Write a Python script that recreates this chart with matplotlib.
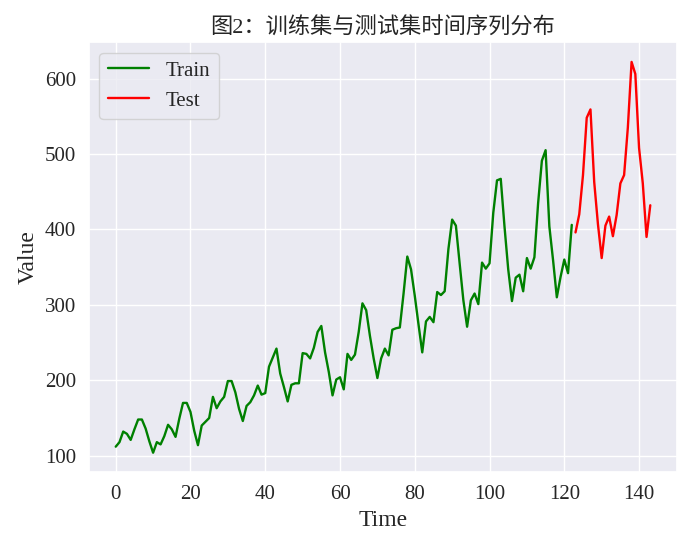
import matplotlib
matplotlib.use("Agg")
import matplotlib.pyplot as plt
import seaborn as sns
import numpy as np

passengers = [112,118,132,129,121,135,148,148,136,119,104,118,
115,126,141,135,125,149,170,170,158,133,114,140,
145,150,178,163,172,178,199,199,184,162,146,166,
171,180,193,181,183,218,230,242,209,191,172,194,
196,196,236,235,229,243,264,272,237,211,180,201,
204,188,235,227,234,264,302,293,259,229,203,229,
242,233,267,269,270,315,364,347,312,274,237,278,
284,277,317,313,318,374,413,405,355,306,271,306,
315,301,356,348,355,422,465,467,404,347,305,336,
340,318,362,348,363,435,491,505,404,359,310,337,
360,342,406,396,420,472,548,559,463,407,362,405,
417,391,419,461,472,535,622,606,508,461,390,432]
split = 123
train_x = list(range(split)); train_y = passengers[:split]
test_x = list(range(split, len(passengers))); test_y = passengers[split:]

sns.set_theme(style="darkgrid")
plt.rcParams['font.family'] = ['Liberation Serif', 'Noto Sans CJK SC', 'DejaVu Sans']

fig, ax = plt.subplots(figsize=(6.95, 5.49), dpi=100)
ax.plot(train_x, train_y, color='green', label='Train', linewidth=1.7)
ax.plot(test_x, test_y, color='red', label='Test', linewidth=1.7)
ax.set_title('图2：训练集与测试集时间序列分布', fontsize=16)
ax.set_xlabel('Time', fontsize=17)
ax.set_ylabel('Value', fontsize=17)
ax.tick_params(labelsize=15)
ax.legend(fontsize=15, loc='upper left')
plt.tight_layout()
plt.savefig('out.png')
